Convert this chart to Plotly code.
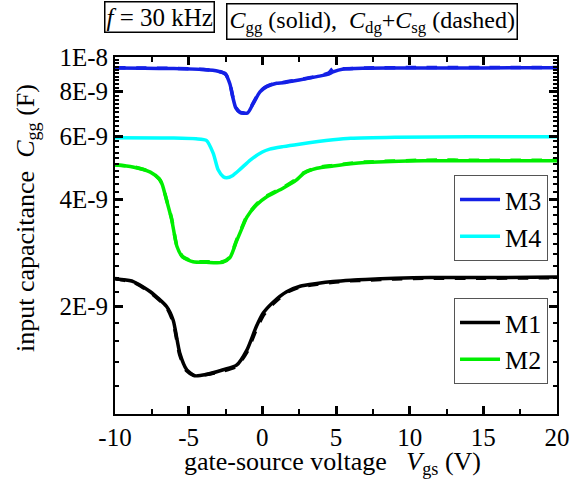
import plotly.graph_objects as go

# ---------------- data (capacitance in units of 1e-9 F) ----------------
m1_x = [-10, -9.9, -8.76, -7.6, -6.5, -6.05, -5.6, -5.13, -4.6, -3.8, -2.65, -1.75, -1.05, -0.4, 0.07, 0.75, 1.65, 2.56, 3.7, 4.8, 6, 7, 9, 11.4, 15, 20]
m1_y = [2.40, 2.39, 2.35, 2.20, 2.00, 1.83, 1.48, 1.33, 1.28, 1.29, 1.33, 1.37, 1.51, 1.76, 1.92, 2.06, 2.20, 2.28, 2.32, 2.35, 2.37, 2.38, 2.40, 2.41, 2.41, 2.42]
m1_yd = [2.40, 2.39, 2.34, 2.19, 1.99, 1.81, 1.46, 1.32, 1.28, 1.29, 1.32, 1.36, 1.49, 1.73, 1.89, 2.04, 2.19, 2.27, 2.31, 2.34, 2.36, 2.37, 2.39, 2.40, 2.40, 2.41]

m2_x = [-10, -8.8, -7.6, -7.0, -6.8, -6.5, -6.15, -5.8, -5.4, -4.7, -3.8, -2.7, -2.2, -1.75, -1.4, -1.05, -0.4, 0.3, 1.4, 2.3, 2.8, 3.7, 4.8, 6, 7, 11, 15, 20]
m2_y = [4.98, 4.92, 4.76, 4.55, 4.40, 3.97, 3.50, 2.95, 2.75, 2.67, 2.66, 2.66, 2.74, 3.05, 3.30, 3.56, 3.85, 4.06, 4.29, 4.52, 4.72, 4.88, 4.95, 5.02, 5.06, 5.12, 5.12, 5.12]
m2_yd = [4.99, 4.93, 4.77, 4.56, 4.41, 3.98, 3.52, 2.96, 2.76, 2.68, 2.67, 2.67, 2.75, 3.07, 3.32, 3.58, 3.87, 4.08, 4.31, 4.55, 4.74, 4.90, 4.97, 5.04, 5.08, 5.14, 5.14, 5.14]

m3_x = [-10, -8, -6, -4, -3, -2.5, -2.2, -2.0, -1.8, -1.5, -1.0, -0.61, -0.16, 0.3, 0.97, 1.4, 2.5, 3.7, 4.5, 4.8, 5.5, 7, 10, 15, 20]
m3_y = [9.32, 9.30, 9.28, 9.22, 9.12, 8.95, 8.40, 7.70, 7.20, 6.98, 6.97, 7.42, 7.99, 8.26, 8.44, 8.47, 8.62, 8.81, 8.95, 9.08, 9.25, 9.30, 9.32, 9.32, 9.33]
m3_yd = [9.33, 9.31, 9.29, 9.23, 9.13, 8.97, 8.43, 7.73, 7.22, 7.00, 6.99, 7.45, 8.02, 8.28, 8.46, 8.49, 8.64, 8.83, 9.02, 9.28, 9.27, 9.32, 9.34, 9.34, 9.35]

m4_x = [-10, -6, -4.5, -3.8, -3.33, -3.0, -2.65, -2.42, -2.0, -1.5, -0.8, 0, 0.5, 1.4, 2.5, 4.8, 6, 9, 14, 20]
m4_y = [5.94, 5.93, 5.90, 5.84, 5.37, 4.83, 4.62, 4.59, 4.66, 4.85, 5.15, 5.42, 5.52, 5.61, 5.70, 5.86, 5.92, 5.96, 5.98, 5.98]

x_ticks = [-10, -5, 0, 5, 10, 15, 20]
x_ticktext = ["-10", "-5", "0", "5", "10", "15", "20"]
y_ticks = [2e-9, 4e-9, 6e-9, 8e-9, 1e-8]
y_ticktext = ["2E-9", "4E-9", "6E-9", "8E-9", "1E-8"]

FONT = "Liberation Serif, Times New Roman, serif"
LW = 3.5

def sc(vals):
    return [v * 1e-9 for v in vals]

fig = go.Figure()

series = [
    ("M3", m3_x, m3_y, m3_yd, "#1420e6", "legend"),
    ("M4", m4_x, m4_y, None, "#00ffff", "legend"),
    ("M1", m1_x, m1_y, m1_yd, "#000000", "legend2"),
    ("M2", m2_x, m2_y, m2_yd, "#00ee00", "legend2"),
]
for name, xs, ys, yd, col, lg in series:
    fig.add_trace(go.Scatter(x=xs, y=sc(ys), mode="lines", name=name,
                             line=dict(color=col, width=LW, shape="spline", smoothing=0.6),
                             legend=lg))
    if yd is not None:
        fig.add_trace(go.Scatter(x=xs, y=sc(yd), mode="lines", showlegend=False,
                                 line=dict(color=col, width=LW, dash="dash", shape="spline", smoothing=0.6),
                                 legend=lg))

# helper (empty) trace on overlay axes that carry the minor ticks
fig.add_trace(go.Scatter(x=[None], y=[None], xaxis="x2", yaxis="y2", showlegend=False, hoverinfo="skip"))

minor_y = [k * 1e-10 for k in range(12, 100, 2) if k not in (20, 40, 60, 80)]
minor_x = [-7.5, -2.5, 2.5, 7.5, 12.5, 17.5]

fig.update_layout(
    width=588, height=481,
    margin=dict(l=115, r=31, t=57, b=67),
    plot_bgcolor="white", paper_bgcolor="white",
    font=dict(family=FONT, size=25, color="black"),
    xaxis=dict(range=[-10, 20], tickvals=x_ticks, ticktext=x_ticktext,
               ticks="inside", ticklen=8, tickwidth=2.5, tickcolor="black",
               showline=True, linewidth=2, linecolor="black", mirror="ticks",
               showgrid=False, zeroline=False, tickfont=dict(size=25)),
    yaxis=dict(type="log", range=[-9, -8], tickvals=y_ticks, ticktext=y_ticktext,
               ticks="inside", ticklen=8, tickwidth=2.5, tickcolor="black",
               showline=True, linewidth=2, linecolor="black", mirror="ticks",
               showgrid=False, zeroline=False, tickfont=dict(size=25)),
    xaxis2=dict(range=[-10, 20], overlaying="x", side="bottom",
                tickvals=minor_x, showticklabels=False,
                ticks="inside", ticklen=5, tickwidth=2, tickcolor="black",
                showline=True, linewidth=2, linecolor="black", mirror="ticks",
                showgrid=False, zeroline=False),
    yaxis2=dict(type="log", range=[-9, -8], overlaying="y", side="left",
                tickvals=minor_y, showticklabels=False,
                ticks="inside", ticklen=4, tickwidth=2, tickcolor="black",
                showline=True, linewidth=2, linecolor="black", mirror="ticks",
                showgrid=False, zeroline=False),
    legend=dict(x=0.767, y=0.669, xanchor="left", yanchor="top",
                bordercolor="#555", borderwidth=1, bgcolor="white",
                font=dict(size=26), itemwidth=40, tracegroupgap=0),
    legend2=dict(x=0.767, y=0.325, xanchor="left", yanchor="top",
                 bordercolor="#555", borderwidth=1, bgcolor="white",
                 font=dict(size=26), itemwidth=40, tracegroupgap=0),
    showlegend=True,
)

fig.add_annotation(xref="paper", yref="paper", x=0.1007, y=1.112, xanchor="center", yanchor="middle",
                   text="<i>f</i> = 30 kHz", showarrow=False, font=dict(size=25),
                   bordercolor="black", borderwidth=1.5, borderpad=1, bgcolor="white")
fig.add_annotation(xref="paper", yref="paper", x=0.582, y=1.0994, xanchor="center", yanchor="middle",
                   text="<i>C</i><sub>gg</sub> (solid),\u00a0 <i>C</i><sub>dg</sub>+<i>C</i><sub>sg</sub> (dashed)",
                   showarrow=False, font=dict(size=24),
                   bordercolor="black", borderwidth=1.5, borderpad=2, bgcolor="white")
fig.add_annotation(xref="paper", yref="paper", x=-0.199, y=0.549, xanchor="center", yanchor="middle",
                   text="input capacitance\u00a0 <i>C</i><sub>gg</sub> (F)", textangle=-90,
                   showarrow=False, font=dict(size=26))
fig.add_annotation(xref="paper", yref="paper", x=0.493, y=-0.137, xanchor="center", yanchor="middle",
                   text="gate-source voltage\u00a0\u00a0 <i>V</i><sub>gs</sub> (V)",
                   showarrow=False, font=dict(size=26))

fig.write_html("out.html", config={"displayModeBar": False},
               post_script="document.body.style.margin='0';document.body.style.overflow='hidden';")
